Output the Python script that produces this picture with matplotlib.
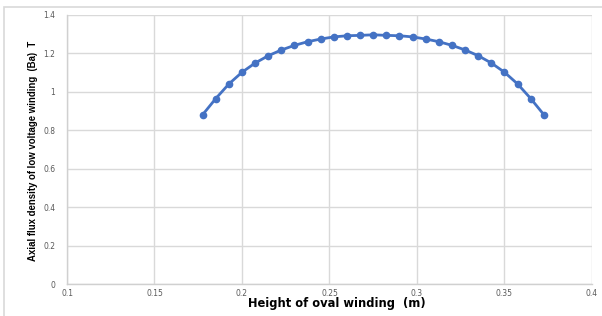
import matplotlib
matplotlib.use("Agg")
import matplotlib.pyplot as plt
from matplotlib.patches import Rectangle

heights = [0.1775 + 0.0075 * i for i in range(27)]
flux = [0.881, 0.965, 1.041, 1.102, 1.150, 1.188, 1.218, 1.242, 1.261, 1.275,
        1.286, 1.292, 1.294, 1.297, 1.294, 1.292, 1.286, 1.275, 1.261, 1.242,
        1.218, 1.188, 1.150, 1.102, 1.041, 0.965, 0.881]
x_ticks = [0.1, 0.15, 0.2, 0.25, 0.3, 0.35, 0.4]
x_tick_labels = ["0.1", "0.15", "0.2", "0.25", "0.3", "0.35", "0.4"]
y_ticks = [0, 0.2, 0.4, 0.6, 0.8, 1.0, 1.2, 1.4]
y_tick_labels = ["0", "0.2", "0.4", "0.6", "0.8", "1", "1.2", "1.4"]

W, H = 602, 316
fig = plt.figure(figsize=(W / 100, H / 100), dpi=100)
fig.patches.append(Rectangle((4 / W, -0.1), 1.2, 1 - 7 / H + 0.1,
                             transform=fig.transFigure, fill=False,
                             edgecolor="#d9d9d9", linewidth=1.2))
ax = fig.add_axes([67 / W, 1 - 284 / H, (592 - 67) / W, (284 - 15) / H])
ax.plot(heights, flux, color="#4472C4", linewidth=2, marker="o", markersize=4.5,
        markerfacecolor="#4472C4", markeredgecolor="#4472C4")
ax.set_xlim(0.1, 0.4)
ax.set_ylim(0, 1.4)
ax.set_xticks(x_ticks)
ax.set_xticklabels(x_tick_labels)
ax.set_yticks(y_ticks)
ax.set_yticklabels(y_tick_labels)
ax.grid(True, color="#d9d9d9", linewidth=1)
ax.set_axisbelow(True)
for s in ["top", "right"]:
    ax.spines[s].set_visible(False)
for s in ["left", "bottom"]:
    ax.spines[s].set_color("#d0d0d0")
    ax.spines[s].set_linewidth(1)
ax.tick_params(axis="x", length=0, labelsize=5.5, labelcolor="#595959", pad=3.5)
ax.tick_params(axis="y", length=0, labelsize=5.5, labelcolor="#595959", pad=8.5)

fig.text(337 / W, 1 - 304 / H, "Height of oval winding  (m)", fontsize=8.3,
         fontweight="bold", family=["DejaVu Sans"], ha="center", va="center")
fig.text(33 / W, 1 - 150.5 / H, "Axial flux density of low voltage winding  (Ba)  T",
         fontsize=6.9, fontweight="bold", rotation=90,
         family=["Liberation Sans Narrow", "Liberation Sans", "DejaVu Sans"],
         ha="center", va="center")
fig.savefig("out.png", dpi=100)
